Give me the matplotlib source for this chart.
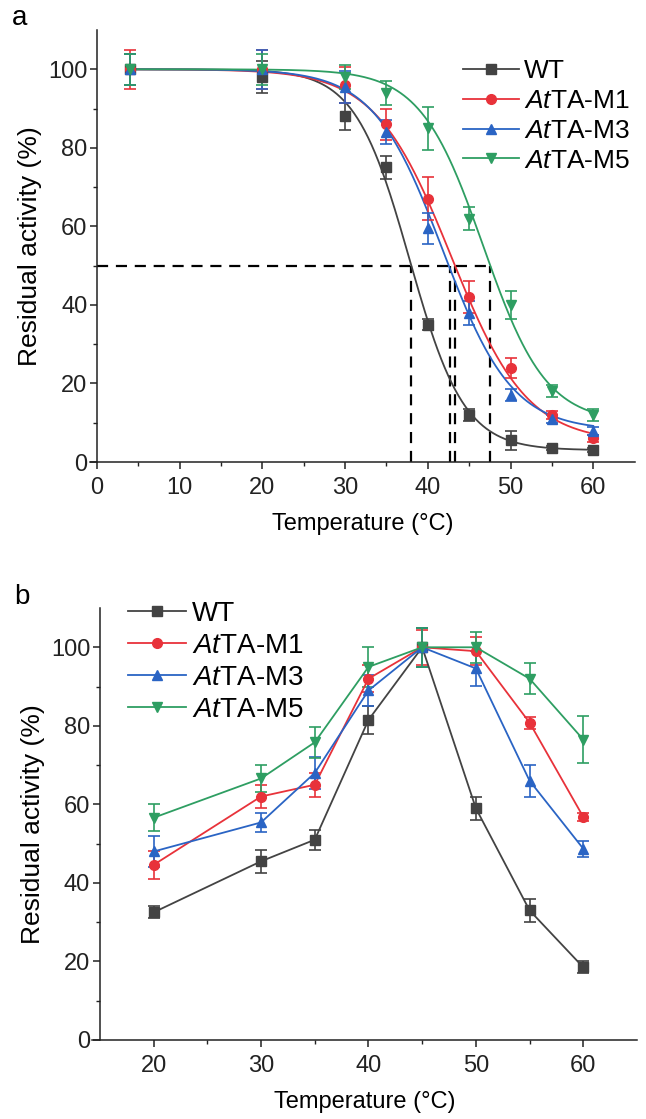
import matplotlib
matplotlib.use("Agg")
import matplotlib.pyplot as plt
from matplotlib.lines import Line2D
import numpy as np

plt.rcParams['font.family'] = ['Liberation Sans', 'DejaVu Sans']
plt.rcParams['mathtext.fontset'] = 'custom'
plt.rcParams['mathtext.it'] = 'Liberation Sans:italic'
plt.rcParams['mathtext.rm'] = 'Liberation Sans'

# ---------------- data ----------------
names = ['WT', r'$\mathit{At}$TA-M1', r'$\mathit{At}$TA-M3', r'$\mathit{At}$TA-M5']
colors = ['#434343', '#e8323a', '#2a64c4', '#2e9e62']
markers = ['s', 'o', '^', 'v']

# panel a : thermostability (residual activity after incubation)
temp_a = [4, 20, 30, 35, 40, 45, 50, 55, 60]
act_a = [
    [100, 98, 88, 75, 35, 12, 5.5, 3.5, 3],
    [100, 100, 96, 86, 67, 42, 24, 12, 6],
    [100, 100, 95.5, 84, 59.5, 38, 17, 11, 8],
    [100, 100, 98, 94, 85, 62, 40, 18, 12],
]
err_a = [
    [4, 4, 3.5, 3, 1.5, 1.5, 2.5, 0.5, 0.5],
    [5, 5, 4.5, 4, 5.5, 4, 2.5, 1, 1],
    [4, 5, 4, 3, 4, 3, 1.5, 1, 1],
    [4, 4, 3, 3, 5.5, 3, 3.5, 1.5, 1.5],
]
# Boltzmann fit parameters (A1, A2, x0, dx) and T50 values
fit_a = [
    (100, 3, 37.8, 3.3),
    (100, 5, 42.8, 4.6),
    (100, 8, 41.8, 4.2),
    (100, 10, 46.7, 3.8),
]
t50 = [38.0, 42.7, 43.3, 47.5]

# panel b : optimum temperature
temp_b = [20, 30, 35, 40, 45, 50, 55, 60]
act_b = [
    [32.5, 45.5, 51, 81.5, 100, 59, 33, 18.5],
    [44.6, 62, 65, 92, 100, 99, 80.8, 56.8],
    [48, 55.4, 68, 89, 100, 94.6, 66, 48.7],
    [56.6, 66.6, 75.8, 95, 100, 100, 92, 76.5],
]
err_b = [
    [1.5, 3, 2.5, 3.5, 5, 3, 3, 1.5],
    [3.5, 3, 3, 3.5, 4.5, 3.5, 1.5, 1],
    [4, 2.5, 4, 4, 5, 4.5, 4, 2],
    [3.5, 3.5, 4, 5, 5, 4, 4, 6],
]

W, H = 646, 1119
fig = plt.figure(figsize=(W / 100, H / 100), dpi=100)
ax_a = fig.add_axes([90 / W, 1 - 462 / H, 545 / W, 432 / H])
ax_b = fig.add_axes([92 / W, 1 - 1040 / H, 545 / W, 432 / H])


def style_axis(ax, x0):
    ax.spines['top'].set_visible(False)
    ax.spines['right'].set_visible(False)
    ax.spines['left'].set_position(('data', x0))
    for s in ['left', 'bottom']:
        ax.spines[s].set_linewidth(1.1)
        ax.spines[s].set_color('#222222')
    ax.tick_params(which='major', direction='out', length=5, width=1.1, labelsize=17, colors='#222222')
    ax.tick_params(axis='x', which='major', pad=6)
    ax.tick_params(axis='y', which='major', pad=2)
    ax.tick_params(which='minor', direction='out', length=3, width=1.0, colors='#222222')
    ax.set_ylim(0, 110)
    ax.set_yticks([0, 20, 40, 60, 80, 100])
    ax.set_yticks([10, 30, 50, 70, 90], minor=True)
    ax.set_ylabel('Residual activity (%)', fontsize=19, labelpad=4)
    ax.set_xlabel('Temperature (°C)', fontsize=17, labelpad=10)


def legend_handles():
    return [Line2D([], [], marker=markers[i], color=colors[i], lw=1.3, ms=7) for i in range(4)]


# ################### panel a ###################
xs = np.linspace(4, 60, 400)
for i in range(4):
    a1, a2, x0, dx = fit_a[i]
    ax_a.plot(xs, a2 + (a1 - a2) / (1 + np.exp((xs - x0) / dx)),
              color=colors[i], lw=1.3, zorder=3)
    ax_a.errorbar(temp_a, act_a[i], yerr=err_a[i], fmt=markers[i], color=colors[i],
                  ms=7, capsize=4, elinewidth=1.2, capthick=1.2, zorder=4)

ax_a.plot([0, max(t50)], [50, 50], ls=(0, (5, 3.5)), color='black', lw=1.6, zorder=2)
for t in t50:
    ax_a.plot([t, t], [0, 50], ls=(0, (5, 3.5)), color='black', lw=1.6, zorder=2)

ax_a.set_xlim(-0.85, 65.05)
ax_a.set_xticks([0, 10, 20, 30, 40, 50, 60])
ax_a.set_xticks([5, 15, 25, 35, 45, 55], minor=True)
style_axis(ax_a, 0)
ax_a.legend(legend_handles(), names, loc='upper right', bbox_to_anchor=(1.025, 0.975), frameon=False,
            fontsize=19, handlelength=2.1, handletextpad=0.2, labelspacing=0.22, borderaxespad=0.3)

# ################### panel b ###################
for i in range(4):
    ax_b.errorbar(temp_b, act_b[i], yerr=err_b[i], fmt='-' + markers[i], color=colors[i],
                  ms=7, lw=1.3, capsize=4, elinewidth=1.2, capthick=1.2)

ax_b.set_xlim(14.26, 65.0)
ax_b.set_xticks([20, 30, 40, 50, 60])
ax_b.set_xticks([25, 35, 45, 55], minor=True)
style_axis(ax_b, 15)
ax_b.legend(legend_handles(), names, loc='upper left', bbox_to_anchor=(0.02, 1.075), frameon=False,
            fontsize=20, handlelength=2.1, handletextpad=0.2, labelspacing=0.22)

fig.text(12 / W, 1 - 18 / H, 'a', fontsize=20, va='center')
fig.text(14 / W, 1 - 597 / H, 'b', fontsize=20, va='center')

fig.savefig('out.png', dpi=100)
